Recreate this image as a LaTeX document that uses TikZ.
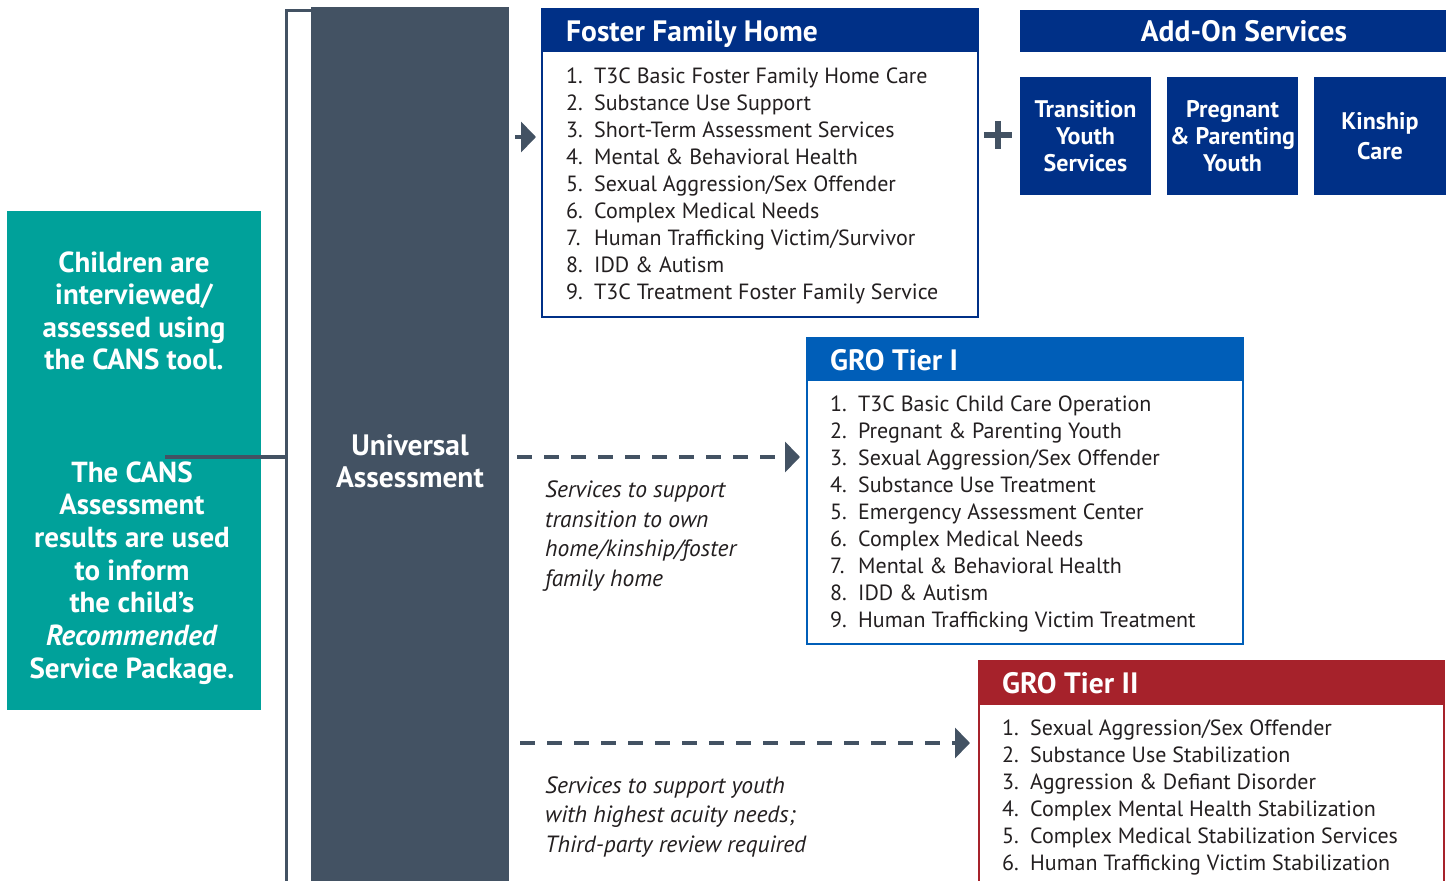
\documentclass[tikz,border=0pt]{standalone}
\usepackage{fontspec}
\setmainfont{PT Sans}
\usetikzlibrary{arrows.meta}
\definecolor{slate}{HTML}{435263}
\definecolor{teal1}{HTML}{00A19A}
\definecolor{navy}{HTML}{003087}
\definecolor{midblue}{HTML}{005EB8}
\definecolor{gred}{HTML}{A6222B}
\definecolor{txt}{HTML}{231F20}
\begin{document}
\begin{tikzpicture}[x=1pt,y=-1pt,
  box/.style={draw, line width=2.5pt, fill=white, anchor=north west, inner sep=0, outer sep=0},
  hdr/.style={anchor=north west, inner sep=0, outer sep=0},
  hdrtext/.style={anchor=base west, inner sep=0, text=white, font=\fontsize{29.5}{32}\selectfont\bfseries},
  item/.style={anchor=base west, inner sep=0, text=txt, font=\fontsize{22}{27}\selectfont},
  addon/.style={fill=navy, anchor=north west, inner sep=0, outer sep=0, minimum height=118pt, text=white, align=center, font=\fontsize{24}{27}\selectfont\bfseries},
  note/.style={anchor=west, inner sep=0, text=txt, align=left, font=\fontsize{23.5}{29.5}\selectfont\itshape},
  dasharr/.style={draw=slate, line width=4pt, dash pattern=on 15pt off 12pt, -{Triangle[length=15pt,width=30pt]}},
  solidarr/.style={draw=slate, line width=4pt, -{Triangle[length=15pt,width=30pt]}},
  bracket/.style={draw=slate, line width=3pt}
]
\useasboundingbox (0,0) rectangle (1449,881);
\clip (0,0) rectangle (1449,881);
\fill[white] (0,0) rectangle (1449,881);

% left bracket
\coordinate (brtop) at (286,10);
\coordinate (brtopr) at (312,10);
\coordinate (brbot) at (286,890);
\draw[bracket] (brtopr) -- (brtop) -- (brbot);

% teal box
\node[fill=teal1, anchor=north west, minimum width=254pt, minimum height=499pt, inner sep=0] (teal) at (7,211) {};
\coordinate (tealjoin) at (165,457);
\coordinate (brjoin) at (286,457);
\draw[draw=slate, line width=4pt] (tealjoin) -- (brjoin);
\node[text=white, align=center, font=\fontsize{29}{32.5}\selectfont\bfseries, inner sep=0] (tealA) at (134,311) {Children are\\interviewed/\\assessed using\\the CANS tool.};
\node[text=white, align=center, font=\fontsize{29}{32.7}\selectfont\bfseries, inner sep=0] (tealB) at (132,573) {The CANS\\Assessment\\results are used\\to inform\\the child’s\\\textit{Recommended}\\Service Package.};

% universal assessment column
\node[fill=slate, anchor=north west, minimum width=198pt, minimum height=880pt, inner sep=0] (col) at (311,7) {};
\node[text=white, align=center, font=\fontsize{29.5}{32}\selectfont\bfseries, inner sep=0] (ua) at (410,461) {Universal\\Assessment};

% Foster Family Home
\node[box, draw=navy, minimum width=436pt, minimum height=308pt] (fh) at (542,9) {};
\node[hdr, fill=navy, minimum width=436pt, minimum height=43pt] (fhh) at (542,9) {};
\node[hdrtext] (fht) at (566,41) {Foster Family Home};
\foreach \t [count=\i] in {T3C Basic Foster Family Home Care, Substance Use Support, Short-Term Assessment Services, Mental \& Behavioral Health, Sexual Aggression/Sex Offender, Complex Medical Needs, Human Trafficking Victim/Survivor, IDD \& Autism, T3C Treatment Foster Family Service}
  \node[item] (fhi\i) at (566,{83+27*(\i-1)}) {\makebox[28pt][l]{\i.}\t};

\coordinate (a1s) at (515,137);
\draw[solidarr, shorten >=6pt] (a1s) -- (fh.west |- a1s);

% plus
\node[inner sep=0, minimum size=28pt] (plus) at (998,135) {};
\draw[draw=slate, line width=6pt] (plus.west) -- (plus.east) (plus.north) -- (plus.south);

% Add-on services
\node[hdr, fill=navy, minimum width=426pt, minimum height=42pt] (aoh) at (1020,10) {};
\node[text=white, font=\fontsize{29.5}{32}\selectfont\bfseries, anchor=base, inner sep=0] (aot) at (1244,41) {Add-On Services};
\node[addon, minimum width=131pt] (ao1) at (1020,77) {Transition\\Youth\\Services};
\node[addon, minimum width=131pt] (ao2) at (1167,77) {Pregnant\\\& Parenting\\Youth};
\node[addon, minimum width=132pt, font=\fontsize{24}{30}\selectfont\bfseries] (ao3) at (1314,77) {Kinship\\Care};

% GRO Tier I
\node[box, draw=midblue, minimum width=436pt, minimum height=306pt] (g1) at (807,338) {};
\node[hdr, fill=midblue, minimum width=436pt, minimum height=43pt] (g1h) at (807,338) {};
\node[hdrtext] (g1t) at (830,370) {GRO Tier I};
\foreach \t [count=\i] in {T3C Basic Child Care Operation, Pregnant \& Parenting Youth, Sexual Aggression/Sex Offender, Substance Use Treatment, Emergency Assessment Center, Complex Medical Needs, Mental \& Behavioral Health, IDD \& Autism, Human Trafficking Victim Treatment}
  \node[item] (g1i\i) at (830,{411+27*(\i-1)}) {\makebox[28pt][l]{\i.}\t};

\coordinate (a2s) at (517,457);
\draw[dasharr, shorten >=7pt] (a2s) -- (g1.west |- a2s);
\node[note] (n1) at (545,536) {Services to support\\transition to own\\home/kinship/foster\\family home};

% GRO Tier II
\node[box, draw=gred, minimum width=465pt, minimum height=240pt] (g2) at (979,661) {};
\node[hdr, fill=gred, minimum width=465pt, minimum height=44pt] (g2h) at (979,661) {};
\node[hdrtext] (g2t) at (1002,693) {GRO Tier II};
\foreach \t [count=\i] in {Sexual Aggression/Sex Offender, Substance Use Stabilization, Aggression \& Defiant Disorder, Complex Mental Health Stabilization, Complex Medical Stabilization Services, Human Trafficking Victim Stabilization}
  \node[item] (g2i\i) at (1002,{735+27*(\i-1)}) {\makebox[28pt][l]{\i.}\t};

\coordinate (a3s) at (520,743);
\draw[dasharr, shorten >=9pt] (a3s) -- (g2.west |- a3s);
\node[note] (n2) at (545,817) {Services to support youth\\with highest acuity needs;\\Third-party review required};
\end{tikzpicture}
\end{document}
